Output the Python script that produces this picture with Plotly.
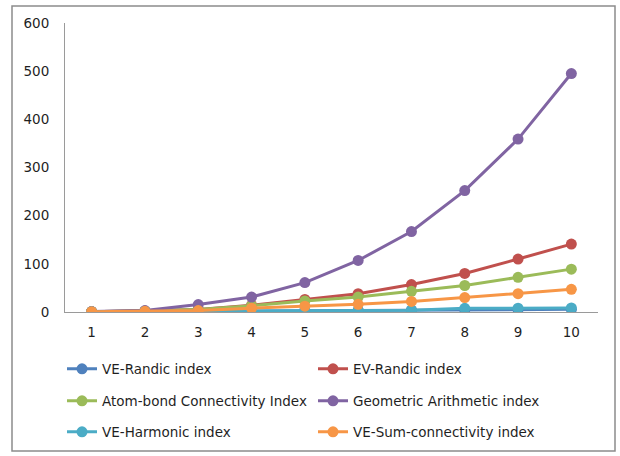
import plotly.graph_objects as go

categories = [1, 2, 3, 4, 5, 6, 7, 8, 9, 10]
ve_randic = [0.4, 1.0, 1.6, 2.2, 2.8, 3.3, 3.9, 4.4, 5.0, 5.5]
ev_randic = [0.5, 2.0, 5.0, 14.0, 26.0, 38.0, 57.0, 80.0, 110.0, 141.0]
abc_index = [0.5, 2.0, 5.0, 13.0, 23.0, 31.0, 43.0, 55.0, 72.0, 89.0]
ga_index = [1.0, 3.0, 15.5, 31.0, 61.0, 107.0, 167.0, 252.0, 359.0, 495.0]
ve_harmonic = [0.5, 1.2, 2.0, 2.5, 3.4, 3.6, 3.8, 7.6, 8.0, 8.3]
ve_sum = [0.7, 1.5, 3.0, 8.0, 12.0, 16.0, 22.0, 30.0, 38.0, 47.0]
y_ticks = [0, 100, 200, 300, 400, 500, 600]

series = [
    ("VE-Randic index", ve_randic, "#4F81BD", "legend"),
    ("EV-Randic index", ev_randic, "#C0504D", "legend"),
    ("Atom-bond Connectivity Index", abc_index, "#9BBB59", "legend2"),
    ("Geometric Arithmetic index", ga_index, "#8064A2", "legend2"),
    ("VE-Harmonic index", ve_harmonic, "#4BACC6", "legend3"),
    ("VE-Sum-connectivity index", ve_sum, "#F79646", "legend3"),
]

FONT = "DejaVu Sans"
FS = 13.5
TXT = "#1f1f1f"
fig = go.Figure()
for name, vals, color, lg in series:
    fig.add_trace(go.Scatter(
        x=categories, y=vals, name=name, mode="lines+markers",
        line=dict(color=color, width=3),
        marker=dict(color=color, size=11),
        legend=lg,
    ))

W, H = 620, 456

def legend_cfg(ypx):
    return dict(
        orientation="h", xref="container", yref="container",
        x=62 / W, y=1 - ypx / H, xanchor="left", yanchor="middle",
        entrywidth=206, entrywidthmode="pixels",
        font=dict(family=FONT, size=FS, color=TXT),
        bgcolor="rgba(0,0,0,0)", traceorder="normal",
        itemwidth=30,
    )

L, R, T, B = 65, 22, 23, 144
pw = W - L - R
ph = H - T - B

fig.update_layout(
    width=W, height=H,
    margin=dict(l=L, r=R, t=T, b=B, autoexpand=False),
    paper_bgcolor="white", plot_bgcolor="white",
    font=dict(family=FONT, size=FS, color=TXT),
    showlegend=True,
    legend=legend_cfg(369),
    legend2=legend_cfg(401),
    legend3=legend_cfg(432),
    xaxis=dict(
        tickmode="array", tickvals=categories,
        ticktext=[str(c) for c in categories],
        range=[0.5, 10.5], showgrid=False, zeroline=False,
        showline=True, linecolor="#9a9a9a", linewidth=1,
        ticks="", ticklabelstandoff=8, automargin=False,
        tickfont=dict(family=FONT, size=FS, color=TXT),
    ),
    yaxis=dict(
        tickmode="array", tickvals=y_ticks,
        range=[0, 600], showgrid=False, zeroline=False,
        showline=True, linecolor="#9a9a9a", linewidth=1,
        ticks="", ticklabelstandoff=12, automargin=False,
        tickfont=dict(family=FONT, size=FS, color=TXT),
    ),
    shapes=[dict(
        type="rect", xref="paper", yref="paper",
        x0=(12 - L) / pw, x1=(615 - L) / pw,
        y0=-(451 - (H - B)) / ph, y1=1 + (T - 6) / ph,
        line=dict(color="#8c8c8c", width=1.5), fillcolor="rgba(0,0,0,0)",
        layer="below",
    )],
)

fig.write_html(
    "out.html",
    config={"displayModeBar": False},
    post_script="document.body.style.margin='0px';document.body.style.overflow='hidden';",
)
